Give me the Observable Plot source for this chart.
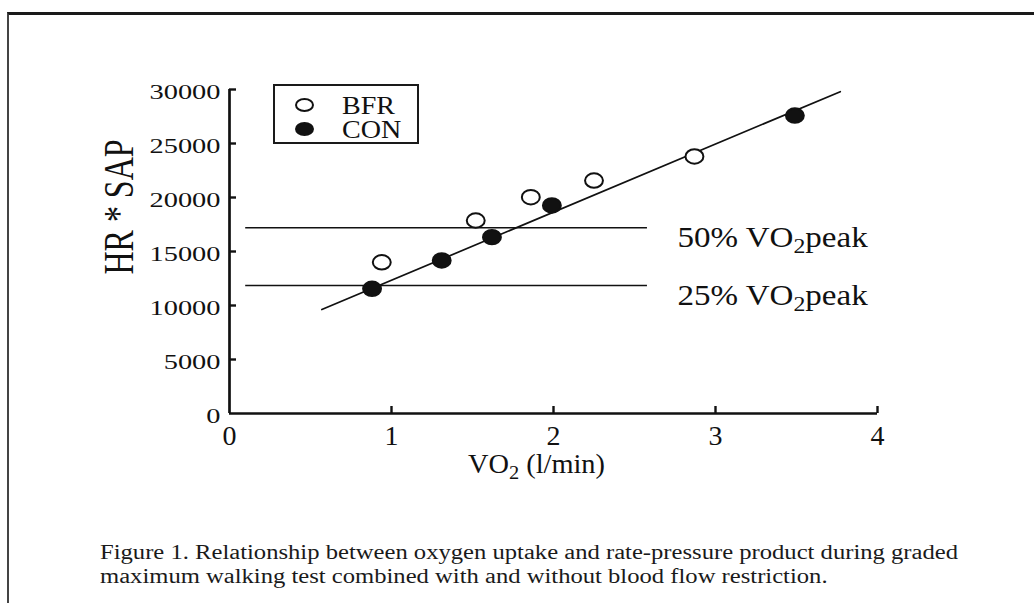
<!DOCTYPE html>
<html>
<head>
<meta charset="utf-8">
<script src="https://cdn.jsdelivr.net/npm/d3@7"></script>
<script src="https://cdn.jsdelivr.net/npm/@observablehq/plot@0.6"></script>
<style>
  html, body { margin: 0; padding: 0; background: #fff; }
  body { width: 1034px; height: 603px; overflow: hidden; position: relative;
         font-family: "Liberation Serif", "Times New Roman", serif; color: #111; }
  #frame { position: absolute; left: 7px; top: 12px; width: 1100px; height: 700px;
           border-left: 2px solid #444; border-top: 3px solid #1a1a1a; }
  #chart { position: absolute; left: 0; top: 0; }
  #legend { position: absolute; left: 273px; top: 84px; width: 142px; height: 56px;
            border: 2px solid #1a1a1a; background: #fff; }
  #legend .row { position: absolute; left: 0; height: 24px; width: 140px; }
  #legend .mk { position: absolute; left: 20px; top: 3px; width: 15px; height: 10px;
                border-radius: 50%; border: 2px solid #111; }
  #legend .lb { position: absolute; left: 67px; top: 0px; font-size: 26px; line-height: 22px;
                display: inline-block; transform-origin: 0 50%; transform: scaleX(1.08); }
  #caption { position: absolute; left: 100px; top: 540px; font-size: 20px; line-height: 24px;
             white-space: nowrap; transform-origin: 0 0; color: #1a1a1a; }
</style>
</head>
<body>
<div id="frame"></div>
<div id="chart"></div>
<div id="legend"></div>
<div id="caption"></div>
<script>
// ---------------- data ----------------
const seriesNames = ["BFR", "CON"];
const bfrX = [0.94, 1.52, 1.86, 2.25, 2.87];
const bfrY = [14000, 17870, 20030, 21570, 23800];
const conX = [0.88, 1.31, 1.62, 1.99, 3.49];
const conY = [11550, 14170, 16330, 19260, 27590];
const fitX = [0.57, 3.77];
const fitY = [9630, 29800];
const refY = [17200, 11850];
const refLabels = ["50% VO₂peak", "25% VO₂peak"];
const refStart = 0.1;
const refEnd = 2.58;
const xTicks = [0, 1, 2, 3, 4];
const yTicks = [0, 5000, 10000, 15000, 20000, 25000, 30000];
const xTitle = "VO₂ (l/min)";
const yTitle = "HR * SAP";
const captionLines = [
  "Figure 1. Relationship between oxygen uptake and rate-pressure product during graded",
  "maximum walking test combined with and without blood flow restriction."
];

// ---------------- tables ----------------
const points = [
  ...bfrX.map((x, i) => ({series: seriesNames[0], x, y: bfrY[i]})),
  ...conX.map((x, i) => ({series: seriesNames[1], x, y: conY[i]}))
];
const fit = fitX.map((x, i) => ({x, y: fitY[i]}));
const refs = refY.map((y, i) => ({y, label: refLabels[i]}));

// ellipse symbol (the figure's markers are slightly wider than tall)
const ellipse = {
  draw(ctx, size) {
    const r = Math.sqrt(size / Math.PI), rx = r * 1.12, ry = r * 0.9, k = 0.5523;
    ctx.moveTo(rx, 0);
    ctx.bezierCurveTo(rx, ry * k, rx * k, ry, 0, ry);
    ctx.bezierCurveTo(-rx * k, ry, -rx, ry * k, -rx, 0);
    ctx.bezierCurveTo(-rx, -ry * k, -rx * k, -ry, 0, -ry);
    ctx.bezierCurveTo(rx * k, -ry, rx, -ry * k, rx, 0);
    ctx.closePath();
  }
};
const fillFor = s => s === "BFR" ? "#fff" : "#111";

const W = 1034, H = 500, ML = 229, MR = 157, MT = 89, MB = 87;
const frameW = W - ML - MR, frameH = H - MT - MB;

const chart = Plot.plot({
  width: W, height: H,
  marginLeft: ML, marginRight: MR, marginTop: MT, marginBottom: MB,
  style: {fontFamily: '"Liberation Serif", "Times New Roman", serif', color: "#111", background: "transparent"},
  x: {domain: [0, 4], axis: null},
  y: {domain: [0, 30000], axis: null},
  marks: [
    // axes
    Plot.ruleX([0], {y1: 0, y2: 30000, stroke: "#111", strokeWidth: 2.7}),
    Plot.ruleY([0], {x1: 0, x2: 4, stroke: "#111", strokeWidth: 2.7}),
    Plot.tickY(yTicks.filter(d => d > 0), {y: d => d, insetRight: frameW - 7, stroke: "#111", strokeWidth: 2.4}),
    Plot.tickX(xTicks.filter(d => d > 0), {x: d => d, insetTop: frameH - 7, stroke: "#111", strokeWidth: 2.4}),
    Plot.axisY({ticks: yTicks, tickSize: 0, tickPadding: 9, fontSize: 20, dy: 3, label: null, tickFormat: d => String(d)}),
    Plot.axisX({ticks: xTicks, tickSize: 0, tickPadding: 12, fontSize: 28, label: null, tickFormat: d => String(d)}),
    // axis titles
    Plot.text([xTitle], {text: d => d, frameAnchor: "bottom", dx: -17, dy: 59, lineAnchor: "bottom", fontSize: 27, fill: "#111"}),
    Plot.text([yTitle], {text: d => d, frameAnchor: "left", rotate: -90, lineAnchor: "bottom", fontSize: 32, fill: "#111"}),
    // reference levels
    Plot.ruleY(refs, {y: "y", x1: () => refStart, x2: () => refEnd, stroke: "#111", strokeWidth: 1.6}),
    Plot.text(refs, {x: () => refEnd, y: "y", text: "label", dx: 30, dy: 10, textAnchor: "start", fontSize: 29, fill: "#111"}),
    // regression line
    Plot.line(fit, {x: "x", y: "y", stroke: "#111", strokeWidth: 1.7}),
    // data points
    Plot.dot(points, {x: "x", y: "y", r: 8, symbol: ellipse, fill: d => fillFor(d.series), stroke: "#111", strokeWidth: 2})
  ]
});
document.getElementById("chart").appendChild(chart);

const ns = "http://www.w3.org/2000/svg";

// subscript "2" in VO₂ texts
chart.querySelectorAll("text").forEach(t => {
  const s = t.textContent;
  if (s.includes("₂")) {
    const [a, b] = s.split("₂");
    t.textContent = "";
    const t1 = document.createElementNS(ns, "tspan"); t1.textContent = a;
    const t2 = document.createElementNS(ns, "tspan"); t2.textContent = "2";
    t2.setAttribute("font-size", "0.72em"); t2.setAttribute("dy", "6");
    const t3 = document.createElementNS(ns, "tspan"); t3.textContent = b;
    t3.setAttribute("dy", "-6");
    t.append(t1, t2, t3);
  }
});

function toParent(el, sx, sy) {
  const p = chart.createSVGPoint(); p.x = sx; p.y = sy;
  return p.matrixTransform(el.parentNode.getScreenCTM().inverse());
}
function wrap(el, transform) {
  const g = document.createElementNS(ns, "g");
  g.setAttribute("transform", transform);
  el.parentNode.insertBefore(g, el);
  g.appendChild(el);
  return g;
}
// horizontal stretch of the scanned lettering, around an anchor point
function stretchEl(t, fx, anchor) {
  const r = t.getBoundingClientRect();
  const sx = anchor === "end" ? r.right : anchor === "start" ? r.left : (r.left + r.right) / 2;
  const q = toParent(t, sx, (r.top + r.bottom) / 2);
  return wrap(t, `translate(${q.x},${q.y}) scale(${fx},1) translate(${-q.x},${-q.y})`);
}
Array.from(chart.querySelectorAll("text")).forEach(t => {
  const s = t.textContent;
  const r = t.getBoundingClientRect();
  if (s === yTitle) {
    const g = stretchEl(t, 1.35, "middle");
    // place the rotated title left of the tick labels
    const b = g.getBoundingClientRect();
    const a = toParent(g, b.right, (b.top + b.bottom) / 2);
    const c = toParent(g, 142, 207);
    wrap(g, `translate(${c.x - a.x},${c.y - a.y})`);
  }
  else if (s.includes("peak")) stretchEl(t, 1.14, "start");
  else if (s.startsWith("VO")) stretchEl(t, 1.05, "middle");
  else if (/^\d+$/.test(s) && r.right < ML) stretchEl(t, 1.42, "end");
});

// legend
const legend = document.getElementById("legend");
seriesNames.forEach((name, i) => {
  const row = document.createElement("div");
  row.className = "row";
  row.style.top = (9 + i * 24) + "px";
  const mk = document.createElement("span");
  mk.className = "mk";
  mk.style.background = fillFor(name);
  const lb = document.createElement("span");
  lb.className = "lb";
  lb.textContent = name;
  row.append(mk, lb);
  legend.appendChild(row);
});

// caption
const cap = document.getElementById("caption");
captionLines.forEach((line, i) => {
  const d = document.createElement("div");
  d.textContent = line;
  d.style.display = "inline-block";
  cap.appendChild(d);
  if (i < captionLines.length - 1) cap.appendChild(document.createElement("br"));
});
const firstW = cap.firstChild.getBoundingClientRect().width;
cap.style.transform = `scaleX(${(858 / firstW).toFixed(3)})`;
</script>
</body>
</html>
